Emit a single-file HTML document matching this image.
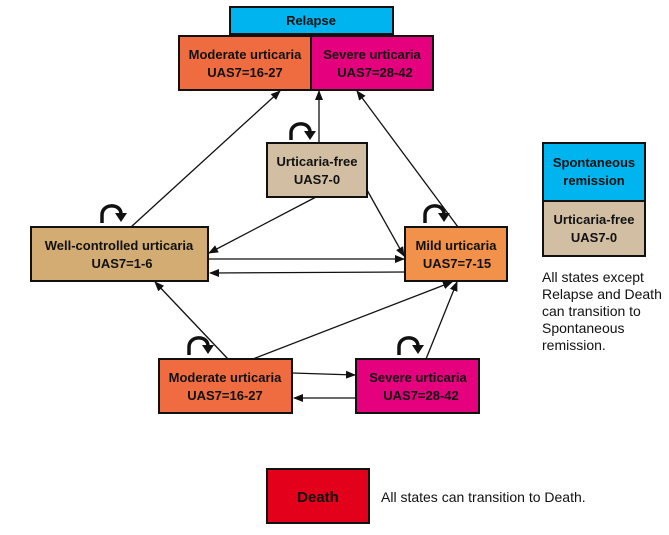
<!DOCTYPE html>
<html><head><meta charset="utf-8"><style>
html,body{margin:0;padding:0;background:#fff;width:669px;height:535px;overflow:hidden}
svg text{font-family:"Liberation Sans",Arial,sans-serif}
.b{font-weight:bold;font-size:13px;fill:#111}
</style></head><body>
<svg width="669" height="535" viewBox="0 0 669 535" xmlns="http://www.w3.org/2000/svg">
<defs>
<marker id="a" markerWidth="10" markerHeight="8" refX="9" refY="4" orient="auto" markerUnits="userSpaceOnUse">
<path d="M0,0 L10,4 L0,8 Z" fill="#111"/></marker>
</defs>
<g stroke="#111" stroke-width="2">
<rect x="230" y="7" width="163" height="27" fill="#00b5ef"/>
<rect x="179" y="36" width="132" height="54" fill="#ee6c40"/>
<rect x="311" y="36" width="122" height="54" fill="#e5007d"/>
<rect x="267" y="143" width="100" height="54" fill="#d2bfa3"/>
<rect x="31" y="227" width="177" height="54" fill="#d2ac72"/>
<rect x="405" y="227" width="102" height="54" fill="#f2914a"/>
<rect x="159" y="359" width="133" height="54" fill="#ee6c40"/>
<rect x="356" y="359" width="123" height="54" fill="#e5007d"/>
<rect x="543" y="143" width="102" height="58" fill="#00b5ef"/>
<rect x="543" y="201" width="102" height="55" fill="#d2bfa3"/>
<rect x="267" y="469" width="102" height="54" fill="#e3001b"/>
</g>
<g stroke="#111" stroke-width="1.3" fill="none" marker-end="url(#a)">
<line x1="131" y1="227" x2="280" y2="91"/>
<line x1="319" y1="143" x2="319" y2="91"/>
<line x1="458" y1="227" x2="357" y2="91"/>
<line x1="316" y1="197" x2="209" y2="253"/>
<line x1="367" y1="190" x2="404" y2="256"/>
<line x1="208" y1="259" x2="404" y2="259"/>
<line x1="405" y1="272" x2="210" y2="273"/>
<line x1="228" y1="359" x2="155" y2="282"/>
<line x1="253" y1="359" x2="452" y2="282"/>
<line x1="426" y1="359" x2="457" y2="282"/>
<line x1="292" y1="373" x2="355" y2="375"/>
<line x1="356" y1="398" x2="294" y2="398"/>
</g>
<g stroke="#111" stroke-width="3.5" fill="none">
<path d="M102,223 L102,215 C102,203 121,203 121,214"/>
<path d="M291,140 L291,133 C291,121 310,121 310,132"/>
<path d="M425,223 L425,215 C425,203 444,203 444,214"/>
<path d="M189,355 L189,347 C189,335 208,335 208,346"/>
<path d="M399,355 L399,347 C399,335 418,335 418,346"/>
</g>
<g fill="#111">
<path d="M115,213 L127,213 L121,222 Z"/>
<path d="M304,131 L316,131 L310,140 Z"/>
<path d="M438,213 L450,213 L444,222 Z"/>
<path d="M202,345 L214,345 L208,354 Z"/>
<path d="M412,345 L424,345 L418,354 Z"/>
</g>
<g class="b" text-anchor="middle">
<text x="311" y="25">Relapse</text>
<text x="245" y="59">Moderate urticaria</text>
<text x="245" y="77">UAS7=16-27</text>
<text x="372" y="59">Severe urticaria</text>
<text x="375" y="77">UAS7=28-42</text>
<text x="317" y="166">Urticaria-free</text>
<text x="317" y="184">UAS7-0</text>
<text x="119" y="250">Well-controlled urticaria</text>
<text x="122" y="268">UAS7=1-6</text>
<text x="456" y="250">Mild urticaria</text>
<text x="457" y="268">UAS7=7-15</text>
<text x="225" y="382">Moderate urticaria</text>
<text x="225" y="400">UAS7=16-27</text>
<text x="418" y="382">Severe urticaria</text>
<text x="421" y="400">UAS7=28-42</text>
<text x="594" y="167">Spontaneous</text>
<text x="594" y="185">remission</text>
<text x="594" y="224">Urticaria-free</text>
<text x="594" y="242">UAS7-0</text>
<text x="318" y="502" font-size="15">Death</text>
</g>
<g font-size="14" fill="#111">
<text x="542" y="282">All states except</text>
<text x="542" y="299">Relapse and Death</text>
<text x="542" y="316">can transition to</text>
<text x="542" y="333">Spontaneous</text>
<text x="542" y="350">remission.</text>
<text x="381" y="502">All states can transition to Death.</text>
</g>
</svg>
</body></html>
